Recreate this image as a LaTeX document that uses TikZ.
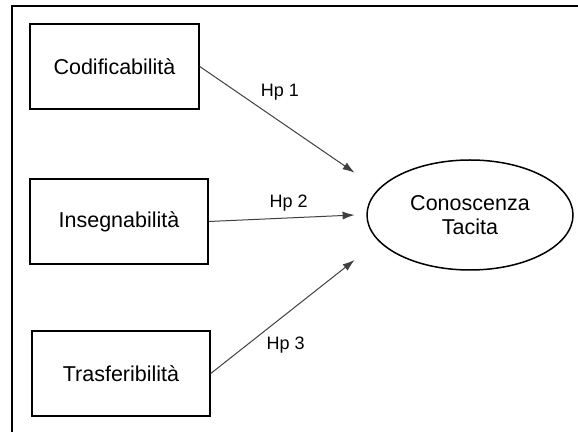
\documentclass[tikz,border=0pt]{standalone}
\usepackage{fontspec}
\setmainfont{Liberation Sans}
\usetikzlibrary{arrows.meta,shapes.geometric}
\colorlet{arrow_col}{black!75}
\tikzset{
    construct/.style={draw,line width=0.75pt,minimum width=#1,minimum height=42.5pt,inner sep=0pt,font=\fontsize{10.75}{13}\selectfont},
    latent/.style={draw,ellipse,line width=0.75pt,minimum width=103pt,minimum height=55pt,inner sep=0pt,align=center,font=\fontsize{10.75}{12}\selectfont},
    hypothesis/.style={-{Latex[length=6pt,width=4pt]},line width=0.5pt,arrow_col},
    hplabel/.style={font=\fontsize{9}{11}\selectfont,inner sep=0pt},
}

\begin{document}
\begin{tikzpicture}[x=0.5pt,y=-0.5pt]
  \useasboundingbox (0,0) rectangle (578,432);
  % frame
  \draw[line width=1pt] (12,432) -- (12,6.5) -- (578,6.5);
  % constructs
  \node[construct=84.5pt] (cod) at (114.5,66.5) {Codificabilità};
  \node[construct=89pt] (ins) at (119,221.5) {Insegnabilità};
  \node[construct=89pt] (tra) at (121,373.5) {Trasferibilità};
  \node[latent] (tac) at (470,215) {Conoscenza\\Tacita};
  % arrow tips
  \coordinate (t1) at (354.6,172.7);
  \coordinate (t2) at (354.6,215);
  \coordinate (t3) at (354.6,260);
  \draw[hypothesis] (cod.east) -- (t1);
  \draw[hypothesis] (ins.east) -- (t2);
  \draw[hypothesis] (tra.east) -- (t3);
  \node[hplabel] (hp1) at (280,92) {Hp 1};
  \node[hplabel] (hp2) at (288.6,203) {Hp 2};
  \node[hplabel] (hp3) at (285.7,345) {Hp 3};
\end{tikzpicture}
\end{document}
